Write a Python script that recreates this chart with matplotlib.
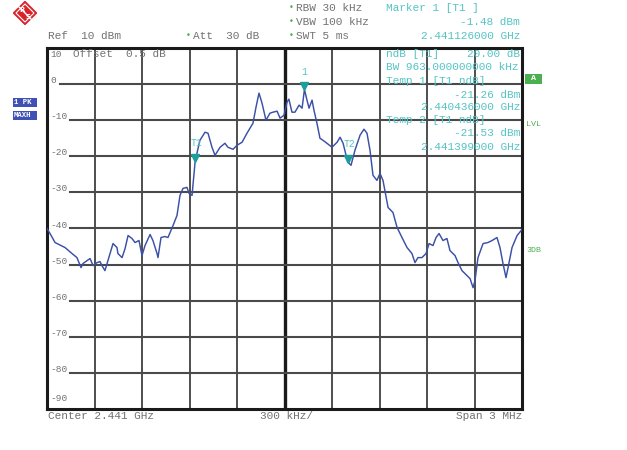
import numpy as np
import matplotlib
matplotlib.use('Agg')
import matplotlib.pyplot as plt
from matplotlib.patches import Polygon, Rectangle

# ==================== data ====================
FREQ_GHZ = [2.439500, 2.439519, 2.439551, 2.439614, 2.439658, 2.439689, 2.439715, 2.439727,
            2.439753, 2.439772, 2.439791, 2.439816, 2.439835, 2.439847, 2.439866, 2.439885,
            2.439917, 2.439942, 2.439948, 2.439974, 2.439993, 2.440012, 2.440037, 2.440056,
            2.440081, 2.440100, 2.440119, 2.440151, 2.440169, 2.440195, 2.440201, 2.440220,
            2.440245, 2.440264, 2.440296, 2.440321, 2.440340, 2.440359, 2.440384, 2.440397,
            2.440416, 2.440436, 2.440466, 2.440498, 2.440517, 2.440542, 2.440561, 2.440593,
            2.440624, 2.440643, 2.440675, 2.440700, 2.440732, 2.440763, 2.440801, 2.440820,
            2.440839, 2.440858, 2.440883, 2.440908, 2.440927, 2.440953, 2.440972, 2.440997,
            2.441016, 2.441028, 2.441047, 2.441066, 2.441092, 2.441111, 2.441126, 2.441142,
            2.441155, 2.441174, 2.441186, 2.441205, 2.441224, 2.441243, 2.441268, 2.441300,
            2.441332, 2.441351, 2.441370, 2.441399, 2.441420, 2.441445, 2.441477, 2.441502,
            2.441521, 2.441540, 2.441559, 2.441584, 2.441603, 2.441622, 2.441654, 2.441685,
            2.441711, 2.441742, 2.441774, 2.441805, 2.441824, 2.441843, 2.441868, 2.441894,
            2.441913, 2.441938, 2.441957, 2.441976, 2.442001, 2.442026, 2.442045, 2.442077,
            2.442096, 2.442121, 2.442153, 2.442172, 2.442191, 2.442203, 2.442222, 2.442254,
            2.442285, 2.442311, 2.442342, 2.442361, 2.442380, 2.442399, 2.442412, 2.442437,
            2.442469, 2.442500]
LEVEL_DBM = [-40.00, -41.39, -43.89, -45.28, -46.94, -48.06, -50.83, -49.72,
             -48.89, -48.33, -50.28, -49.44, -49.17, -50.28, -51.67, -48.89,
             -44.17, -45.28, -46.94, -48.06, -45.56, -41.94, -42.78, -43.89,
             -43.33, -47.50, -44.72, -41.67, -43.33, -46.94, -48.06, -42.50,
             -42.22, -42.50, -39.17, -36.39, -30.83, -28.89, -28.61, -30.28,
             -30.83, -21.26, -15.56, -13.33, -13.61, -17.50, -19.72, -17.50,
             -16.39, -17.50, -18.06, -16.94, -16.11, -13.61, -10.83, -6.39,
             -2.50, -5.28, -10.00, -8.06, -7.78, -7.50, -9.44, -8.61,
             -5.00, -4.17, -7.78, -7.78, -5.83, -6.67, -1.48, -4.44,
             -6.67, -4.44, -7.22, -10.83, -15.00, -15.56, -16.39, -17.50,
             -16.11, -14.72, -16.39, -21.53, -22.50, -18.33, -14.17, -12.50,
             -13.61, -18.33, -25.28, -26.67, -24.72, -26.67, -34.17, -35.56,
             -39.72, -42.50, -45.28, -46.94, -49.44, -48.06, -48.06, -46.94,
             -44.17, -44.72, -42.50, -41.39, -43.33, -42.78, -46.11, -47.50,
             -49.44, -51.67, -53.06, -53.89, -56.39, -54.44, -48.06, -44.17,
             -43.89, -43.33, -42.50, -45.28, -49.72, -53.61, -50.83, -45.28,
             -41.94, -40.28]

MARKER_NAMES = ['T1', '1', 'T2']
MARKER_FREQ = [2.440436, 2.441126, 2.441399]
MARKER_LEVEL = [-21.26, -1.48, -21.53]

CENTER = 2.441
SPAN = 0.003
REF = 10
Y_LABELS = [10, 0, -10, -20, -30, -40, -50, -60, -70, -80, -90]

GRAY = '#727272'
CYAN = '#55c4c4'
GREEN = '#4cb050'
TRACE = '#3b50a6'
MONO = 'Liberation Mono'

W, H = 627, 450
fig = plt.figure(figsize=(W / 100, H / 100), dpi=100)
ax = fig.add_axes([47 / W, 1 - 409 / H, 475 / W, 361 / H])
f0, f1 = CENTER - SPAN / 2, CENTER + SPAN / 2
ax.set_xlim(f0, f1)
ax.set_ylim(-90, REF)
ax.set_xticks([])
ax.set_yticks([])
for s in ax.spines.values():
    s.set_linewidth(2.2)
    s.set_color('#1a1a1a')


def px(x, y):
    return x / W, 1 - y / H


# 网格: 竖线 10 格, 中心线加粗
for i in range(1, 10):
    ax.axvline(f0 + i * SPAN / 10, color='#1a1a1a' if i == 5 else '#404040',
               lw=2.4 if i == 5 else 1.3, zorder=1)
# 横线从刻度文字后面开始
for v in Y_LABELS:
    if v in (REF, -90):
        continue
    start = 0.027 if v == 0 else 0.048
    ax.axhline(v, xmin=start, color='#4a4a4a', lw=1.5, zorder=1)
for v in Y_LABELS:
    yy = v
    if v == REF:
        yy = 8.3
    elif v == -90:
        yy = -87.2
    ax.annotate(str(v), (0.007, yy), xycoords=('axes fraction', 'data'),
                xytext=(0, 2.5 if v not in (REF, -90) else 0), textcoords='offset points',
                va='center', ha='left', fontsize=6.8, color=GRAY, family=MONO)

ax.plot(FREQ_GHZ, LEVEL_DBM, color=TRACE, lw=1.05, zorder=3)

# markers
for name, f, lv in zip(MARKER_NAMES, MARKER_FREQ, MARKER_LEVEL):
    ax.plot([f], [lv + 0.9], marker='v', ms=5.5, color='#1f9d9d', zorder=4, ls='none')
    ax.annotate(name, (f, lv), xytext=(0 if name == '1' else 1, 9), textcoords='offset points',
                ha='center', va='bottom', fontsize=7, color=CYAN, family=MONO)

# 顶部参数文字
txt = dict(fontsize=8, family=MONO)
fig.text(*px(48, 36), 'Ref  10 dBm', color=GRAY, va='center', **txt)
fig.text(*px(186, 36), '\u2022', color=GREEN, va='center', fontsize=6)
fig.text(*px(193, 36), 'Att  30 dB', color=GRAY, va='center', **txt)
for yy, s in [(8, 'RBW 30 kHz'), (22, 'VBW 100 kHz'), (36, 'SWT 5 ms')]:
    fig.text(*px(289, yy), '\u2022', color=GREEN, va='center', fontsize=6)
    fig.text(*px(296, yy), s, color=GRAY, va='center', **txt)
fig.text(*px(386, 8), 'Marker 1 [T1 ]', color=CYAN, va='center', **txt)
fig.text(*px(520, 22), '-1.48 dBm', color=CYAN, va='center', ha='right', **txt)
fig.text(*px(520, 36), '2.441126000 GHz', color=CYAN, va='center', ha='right', **txt)

fig.text(*px(73, 54), 'Offset  0.5 dB', color=GRAY, va='center', **txt)
fig.text(*px(386, 54), 'ndB [T1]', color=CYAN, va='center', **txt)
fig.text(*px(520, 54), '20.00 dB', color=CYAN, va='center', ha='right', **txt)
fig.text(*px(386, 67), 'BW 963.000000000 kHz', color=CYAN, va='center', **txt)
fig.text(*px(386, 81), 'Temp 1 [T1 ndB]', color=CYAN, va='center', **txt)
fig.text(*px(520, 95), '-21.26 dBm', color=CYAN, va='center', ha='right', **txt)
fig.text(*px(520, 107), '2.440436000 GHz', color=CYAN, va='center', ha='right', **txt)
fig.text(*px(386, 120), 'Temp 2 [T1 ndB]', color=CYAN, va='center', **txt)
fig.text(*px(520, 133), '-21.53 dBm', color=CYAN, va='center', ha='right', **txt)
fig.text(*px(520, 147), '2.441399000 GHz', color=CYAN, va='center', ha='right', **txt)

# 底部
fig.text(*px(48, 416), 'Center 2.441 GHz', color=GRAY, va='center', **txt)
fig.text(*px(260, 416), '300 kHz/', color=GRAY, va='center', **txt)
fig.text(*px(522, 416), 'Span 3 MHz', color=GRAY, va='center', ha='right', **txt)

# 右侧绿色标签
fig.patches.append(Rectangle(px(525, 84), 17 / W, 10 / H, transform=fig.transFigure,
                             facecolor=GREEN, edgecolor='none'))
fig.text(*px(533.5, 79), 'A', color='white', va='center', ha='center', fontsize=6,
         family=MONO, weight='bold')
fig.text(*px(526, 125), 'LVL', color=GREEN, va='center', fontsize=6, family=MONO)
fig.text(*px(526, 250), '3DB', color=GREEN, va='center', fontsize=6, family=MONO)

# 左侧蓝色标签
for y0, s in [(98, '1 PK'), (111, 'MAXH')]:
    fig.patches.append(Rectangle(px(13, y0 + 9), 24 / W, 9 / H, transform=fig.transFigure,
                                 facecolor='#3f51b5', edgecolor='none'))
    fig.text(*px(14, y0 + 4.5), s, color='white', va='center', fontsize=5.2,
             family=MONO, weight='bold')

# R&S 标志
cx, cy, r = 25, 13, 11.5
fig.patches.append(Polygon([px(cx, cy - r), px(cx + r, cy), px(cx, cy + r), px(cx - r, cy)],
                           closed=True, transform=fig.transFigure,
                           facecolor='#d8232a', edgecolor='#d8232a'))
r2 = r - 2.5
fig.patches.append(Polygon([px(cx, cy - r2), px(cx + r2, cy), px(cx, cy + r2), px(cx - r2, cy)],
                           closed=True, transform=fig.transFigure,
                           facecolor='none', edgecolor='white', lw=0.8))
fig.lines.append(plt.Line2D([px(cx - 6, cy - 6)[0], px(cx + 6, cy + 6)[0]],
                            [px(cx - 6, cy - 6)[1], px(cx + 6, cy + 6)[1]],
                            transform=fig.transFigure, color='white', lw=1.0))
fig.text(*px(cx - 3, cy - 3), 'R', color='white', ha='center', va='center', fontsize=5,
         weight='bold')
fig.text(*px(cx + 3, cy + 4), 'S', color='white', ha='center', va='center', fontsize=5,
         weight='bold')

fig.savefig('out.png', dpi=100)
